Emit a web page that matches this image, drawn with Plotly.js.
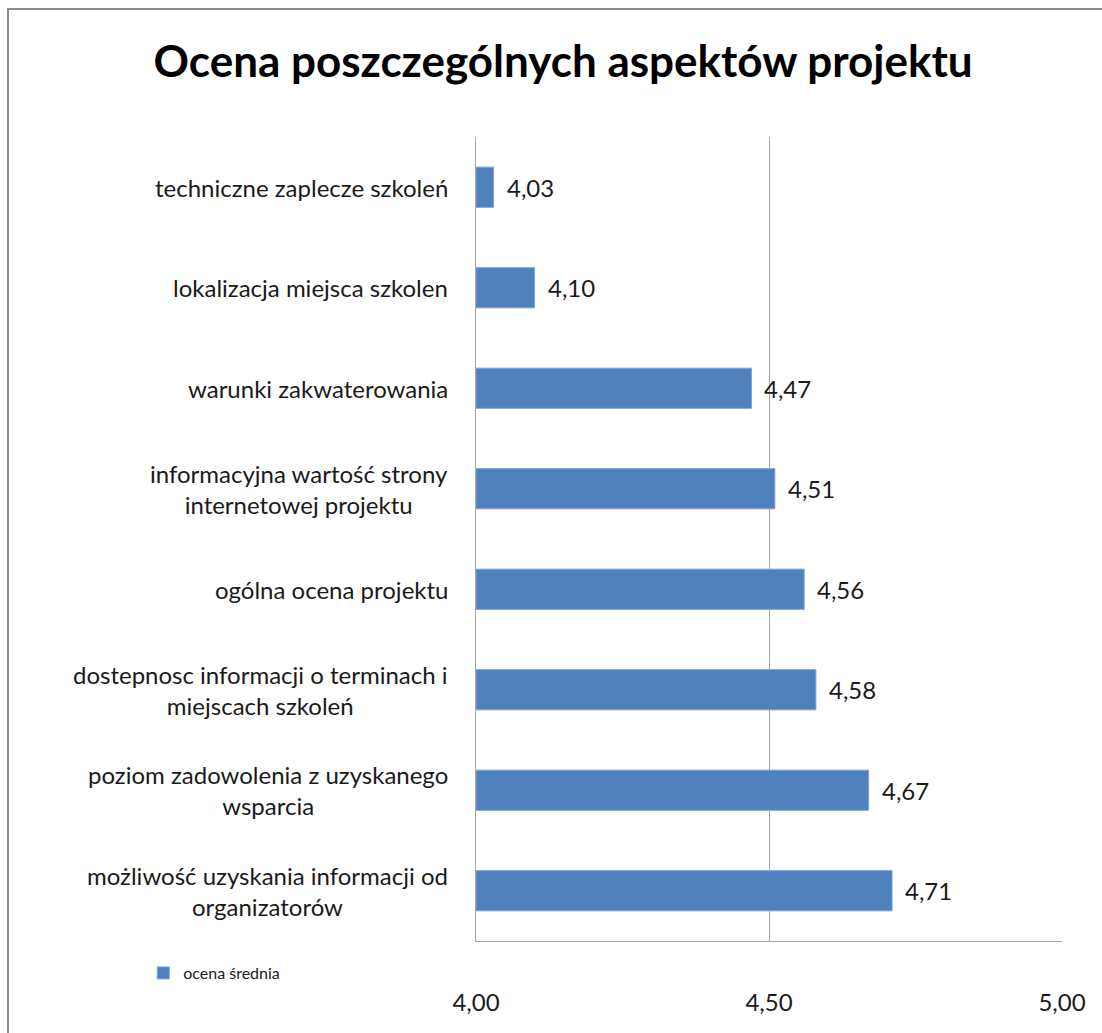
<!DOCTYPE html>
<html>
<head>
<meta charset="utf-8">
<script src="https://cdn.plot.ly/plotly-3.0.1.min.js"></script>
<style>
html,body{margin:0;padding:0;background:#fff;overflow:hidden;}
#wrap{position:relative;width:1102px;height:1033px;}
#chart{position:absolute;left:0;top:0;width:1102px;height:1033px;}
#frame{position:absolute;left:7px;top:8px;width:1300px;height:1300px;border:2px solid #8c8c8c;pointer-events:none;box-sizing:border-box;}
</style>
</head>
<body>
<div id="wrap"><div id="chart"></div><div id="frame"></div></div>
<script>
const categories = [
  "techniczne zaplecze szkoleń",
  "lokalizacja miejsca szkolen",
  "warunki zakwaterowania",
  "informacyjna wartość strony<br>internetowej projektu",
  "ogólna ocena projektu",
  "dostepnosc informacji o terminach i<br>miejscach szkoleń",
  "poziom zadowolenia z uzyskanego<br>wsparcia",
  "możliwość uzyskania informacji od<br>organizatorów"
];
const values = [4.03, 4.10, 4.47, 4.51, 4.56, 4.58, 4.67, 4.71];
const seriesName = "ocena średnia";
const xTicks = [4.0, 4.5, 5.0];
const xTickLabels = ["4,00", "4,50", "5,00"];
const titleText = "Ocena poszczególnych aspektów projektu";

const FONT = "Lato, 'Open Sans', sans-serif";
const BLUE = "#4f81bd";

const trace = {
  type: "bar",
  orientation: "h",
  x: values.map(v => +(v - 4).toFixed(4)),
  y: categories,
  base: 4,
  name: seriesName,
  marker: {color: BLUE, line: {color: "#7fa3d3", width: 1}},
  showlegend: true,
  hoverinfo: "skip"
};

const annotations = [];
categories.forEach((c, i) => {
  annotations.push({
    xref: "paper", yref: "y", x: 0, y: c,
    text: c, showarrow: false, xanchor: "right", yanchor: "middle",
    align: "center", xshift: -26,
    font: {family: FONT, size: 24, color: "#1a1a1a"}
  });
  annotations.push({
    xref: "x", yref: "y", x: values[i], y: c,
    text: values[i].toFixed(2).replace(".", ","), showarrow: false,
    xanchor: "left", yanchor: "middle", xshift: 11,
    font: {family: FONT, size: 24, color: "#1a1a1a"}
  });
});

const layout = {
  width: 1102, height: 1033,
  margin: {l: 476, r: 40, t: 137, b: 92, pad: 0},
  paper_bgcolor: "rgba(0,0,0,0)",
  plot_bgcolor: "#fff",
  title: {
    text: "<b>" + titleText + "</b>",
    x: 0.511, xref: "container", xanchor: "center",
    y: 1 - 62/1033, yref: "container", yanchor: "middle",
    font: {family: FONT, size: 44, color: "#000"}
  },
  bargap: 0.6,
  xaxis: {
    range: [4, 5], tickvals: xTicks, ticktext: xTickLabels,
    showgrid: true, gridcolor: "#a6a6a6", gridwidth: 1,
    showline: true, linecolor: "#a6a6a6", linewidth: 1,
    zeroline: false, ticks: "", ticklabelstandoff: 40,
    tickfont: {family: FONT, size: 24, color: "#1a1a1a"},
    fixedrange: true
  },
  yaxis: {
    type: "category", autorange: "reversed",
    showticklabels: false, showgrid: false,
    showline: true, linecolor: "#a6a6a6", linewidth: 1,
    ticks: "", zeroline: false, fixedrange: true
  },
  showlegend: true,
  legend: {
    xref: "container", yref: "container",
    x: 0.130, y: 1 - 973/1033, xanchor: "left", yanchor: "middle",
    orientation: "h",
    font: {family: FONT, size: 16, color: "#1a1a1a"},
    bgcolor: "rgba(0,0,0,0)", itemwidth: 30
  },
  annotations: annotations
};

Plotly.newPlot("chart", [trace], layout, {displayModeBar: false, staticPlot: true});
</script>
</body>
</html>
